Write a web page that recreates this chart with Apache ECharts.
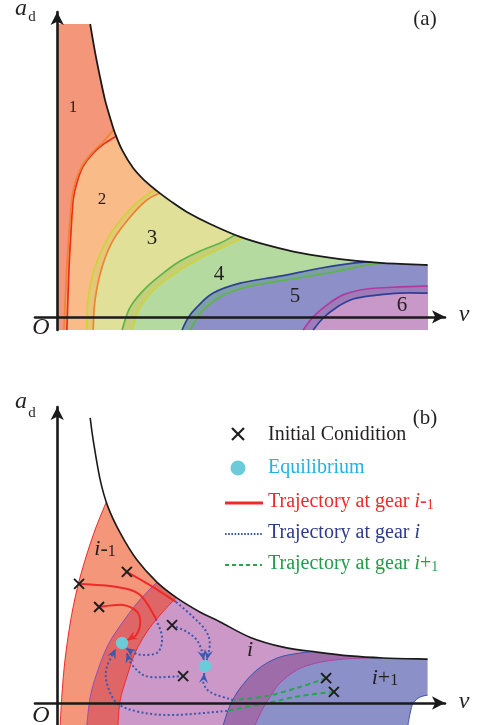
<!DOCTYPE html>
<html>
<head>
<meta charset="utf-8">
<script src="https://cdn.jsdelivr.net/npm/echarts@6/dist/echarts.min.js"></script>
<style>
html,body{margin:0;padding:0;background:#ffffff;}
#chart{width:480px;height:725px;}
</style>
</head>
<body>
<div id="chart"></div>
<script>
// ================= DATA (v, a_d) =================
// ---- Panel (a) ----
const envelopeA = [[0.89,10.0],[1.02,9.05],[1.16,8.16],[1.29,7.41],[1.43,6.79],[1.56,6.27],[1.75,5.70],[2.05,5.08],[2.37,4.64],[2.69,4.30],[3.05,3.96],[3.50,3.58],[4.13,3.17],[4.94,2.73],[5.75,2.42],[6.56,2.18],[7.64,1.97],[8.72,1.84],[10,1.77]];
const gear1EndA   = [[0.26,-0.45],[0.32,1.70],[0.37,2.86],[0.43,3.99],[0.53,4.57],[0.69,5.12],[0.97,5.59],[1.29,5.93],[1.61,6.18]];
const gear2StartA = [[0.18,-0.45],[0.26,1.71],[0.32,2.86],[0.39,3.99],[0.48,4.57],[0.66,5.13],[0.93,5.59],[1.24,5.98],[1.53,6.39]];
const gear2EndA   = [[0.97,-0.45],[1.02,0.57],[1.21,1.70],[1.51,2.62],[1.97,3.41],[2.42,3.99],[2.78,4.23]];
const gear3StartA = [[0.80,-0.45],[0.83,0.57],[1.02,1.70],[1.34,2.62],[1.78,3.41],[2.24,3.99],[2.64,4.35]];
const gear3EndA   = [[2.02,-0.45],[2.24,0.33],[2.69,1.02],[3.23,1.53],[3.77,1.94],[4.48,2.38],[5.02,2.69]];
const gear4StartA = [[1.75,-0.45],[1.97,0.33],[2.42,1.02],[2.97,1.60],[3.31,1.90],[3.86,2.25],[4.40,2.52],[4.78,2.78]];
const gear4EndA   = [[3.59,-0.45],[3.75,-0.11],[3.94,0.23],[4.40,0.68],[5.12,1.02],[6.20,1.26],[7.45,1.53],[8.36,1.77],[8.85,1.83]];
const gear5StartA = [[3.37,-0.45],[3.53,-0.04],[3.77,0.33],[4.21,0.81],[4.94,1.15],[6.01,1.39],[7.09,1.66],[8.04,1.84],[8.45,1.88]];
const gear5EndA   = [[6.91,-0.45],[7.18,-0.04],[7.55,0.33],[7.99,0.61],[8.63,0.74],[9.25,0.81],[10,0.81]];
const gear6StartA = [[6.64,-0.45],[6.91,0.0],[7.28,0.40],[7.72,0.75],[8.36,0.95],[9.25,1.02],[10,1.05]];
const gearLabelsA = ['1','2','3','4','5','6'];

// ---- Panel (b) ----
const envelopeB = [[0.89,9.74],[0.97,8.99],[1.16,7.62],[1.37,6.70],[1.70,5.81],[2.15,4.89],[2.69,4.13],[3.23,3.59],[3.85,3.11],[4.40,2.77],[5.20,2.25],[6.10,1.91],[7.01,1.74],[7.90,1.61],[8.80,1.54],[10,1.50]];
const gearPrevStartB = [[0.08,-0.75],[0.13,0.34],[0.21,1.47],[0.35,2.73],[0.53,3.86],[0.75,4.88],[1.02,5.91],[1.33,6.88]];
const gearPrevEndB   = [[1.64,-0.75],[1.70,0.10],[1.88,0.89],[2.10,1.71],[2.42,2.43],[2.78,3.01],[3.21,3.60]];
const gearCurStartB  = [[0.80,-0.75],[0.89,0.20],[1.07,1.02],[1.37,1.98],[1.75,2.73],[2.18,3.45],[2.69,4.13]];
const gearCurEndB    = [[5.34,-0.75],[5.53,-0.24],[5.74,0.20],[6.01,0.68],[6.47,1.13],[7.01,1.37],[7.72,1.50],[8.63,1.55]];
const gearNextStartB = [[4.48,-0.75],[4.67,-0.07],[4.94,0.51],[5.39,1.13],[5.94,1.54],[6.56,1.71],[6.96,1.75]];
const gearNextCutB   = [[10,0.27],[9.79,0.20],[9.61,0.0],[9.53,-0.34],[9.47,-0.75]];

const initialConditions = [[1.88,4.48],[0.59,4.07],[1.13,3.28],[3.10,2.66],[3.40,0.92],[7.26,0.85],[7.47,0.38]];
const equilibria = [[1.75,2.05],[3.99,1.26]];

const trajPrev1 = [[1.88,4.48],[2.59,3.96],[3.21,3.45]];
const trajPrev2 = [[0.59,4.07],[1.61,3.96],[2.24,3.69],[2.67,2.87]];
const trajPrev3 = [[1.13,3.28],[1.78,3.35],[2.16,3.11],[2.24,2.73],[2.13,2.32],[1.89,2.15]];
const trajCur1 = [[3.21,3.45],[3.67,2.94],[4.00,2.49],[4.12,2.05],[4.04,1.47]];
const trajCur2 = [[3.10,2.66],[3.50,2.43],[3.77,2.15],[3.90,1.80],[3.96,1.47]];
const trajCur3 = [[2.67,2.87],[2.83,2.25],[2.72,1.74],[2.32,1.64],[2.02,1.74],[1.86,1.88]];
const trajCur4 = [[3.40,0.92],[2.50,0.89],[2.15,1.13],[1.94,1.47],[1.88,1.71]];
const trajCur5 = [[4.75,0.10],[4.15,0.36],[3.95,0.68],[3.97,1.02]];
const trajCur6 = [[4.58,-0.27],[3.13,-0.41],[2.24,-0.31],[1.61,0.0],[1.34,0.68],[1.34,1.23],[1.58,1.85]];
const trajNext1 = [[7.26,0.85],[6.56,0.55],[5.66,0.24],[4.75,0.10]];
const trajNext2 = [[7.47,0.38],[6.56,0.24],[5.66,0.0],[4.58,-0.27]];

const vRange  = [-0.6, 10.47];
const aRangeA = [-0.45, 10.41];
const aRangeB = [-0.75, 10.11];

// ================= STYLES =================
const FONT = "'Liberation Serif','Times New Roman',serif";
const regionColA = ['#F4967A','#F9BB87','#E0E098','#B5DAA0','#8C8FC8','#C898C8'];
const bandColA   = ['#F3A276','#E6C67A','#C4CF7C','#7F9FA6','#9C7DBA'];
const lineColA   = ['#EE2A24','#F0842E','#D0D23A','#5DB548','#2E3F98','#B23A9E'];
const colB = {prev:'#F4967A', cur:'#CB98C8', band1:'#DF6666', next:'#8C90C8', band2:'#9D6CA9',
  red:'#EE2A2A', purple:'#9050B0', magenta:'#B0449E', blue:'#3A55AA',
  trajRed:'#EE2A2A', trajBlue:'#3A58B0', trajGreen:'#26A64A', cyan:'#6CCBD9', black:'#1E1E1E'};

// ================= HELPERS =================
const last = a => a[a.length-1];
const fmt = p => p[0].toFixed(2)+' '+p[1].toFixed(2);
function curve(api, pts, first){
  const q = pts.map(p => api.coord(p));
  let s = first + fmt(q[0]);
  for (let i=0;i<q.length-1;i++){
    const p0=q[i>0?i-1:i], p1=q[i], p2=q[i+1], p3=q[i+2<q.length?i+2:i+1];
    const c1=[p1[0]+(p2[0]-p0[0])/6, p1[1]+(p2[1]-p0[1])/6];
    const c2=[p2[0]-(p3[0]-p1[0])/6, p2[1]-(p3[1]-p1[1])/6];
    s += ' C'+fmt(c1)+' '+fmt(c2)+' '+fmt(p2);
  }
  return s+' ';
}
function straight(api, pts, first){
  return pts.map((p,i)=>(i===0?first:'L')+fmt(api.coord(p))).join(' ')+' ';
}
const between = (env,x0,x1) => env.filter(p => p[0] > x0+0.03 && p[0] < x1-0.03);
function bandPath(api, start, end, env){
  const a=last(start), b=last(end);
  return curve(api,start,'M') + curve(api,[a,...between(env,a[0],b[0]),b],'L') + curve(api,end.slice().reverse(),'L') + 'Z';
}
function regionPath(api, start, env, ymin){
  const e=last(start);
  return curve(api,start,'M') + curve(api,[e,...between(env,e[0],99)],'L') + straight(api,[[10,ymin]],'L') + 'Z';
}
function arrowHead(api, pts, len, hw){
  const t=api.coord(last(pts)), p=api.coord(pts[pts.length-2]);
  let dx=t[0]-p[0], dy=t[1]-p[1]; const L=Math.hypot(dx,dy)||1; dx/=L; dy/=L;
  const nx=-dy, ny=dx;
  const bx=t[0]-dx*len, by=t[1]-dy*len;
  const mx=t[0]-dx*len*0.62, my=t[1]-dy*len*0.62;
  return 'M'+fmt(t)+' L'+fmt([bx+nx*hw,by+ny*hw])+' L'+fmt([mx,my])+' L'+fmt([bx-nx*hw,by-ny*hw])+' Z';
}
function cross(api,p,s){
  const c=api.coord(p);
  return 'M'+fmt([c[0]-s,c[1]-s])+' L'+fmt([c[0]+s,c[1]+s])+' M'+fmt([c[0]-s,c[1]+s])+' L'+fmt([c[0]+s,c[1]-s]);
}

// ================= RENDERERS =================
function renderA(params, api){
  const ymin = aRangeA[0];
  const kids=[];
  const F=(d,c)=>kids.push({type:'path',shape:{pathData:d},style:{fill:c,stroke:'none'}});
  const S=(d,c,w)=>kids.push({type:'path',shape:{pathData:d},style:{fill:'none',stroke:c,lineWidth:w,lineJoin:'round'}});
  const starts=[null,gear2StartA,gear3StartA,gear4StartA,gear5StartA,gear6StartA];
  const ends=[gear1EndA,gear2EndA,gear3EndA,gear4EndA,gear5EndA,null];
  F(straight(api,[[0,ymin],[0,envelopeA[0][1]]],'M') + curve(api,envelopeA,'L') + straight(api,[[10,ymin]],'L') + 'Z', regionColA[0]);
  for (let k=1;k<6;k++){
    F(regionPath(api,starts[k],envelopeA,ymin), regionColA[k]);
    F(bandPath(api,starts[k],ends[k-1],envelopeA), bandColA[k-1]);
  }
  for (let k=1;k<6;k++){
    S(curve(api,ends[k-1],'M'), lineColA[k-1], 1.7);
    S(curve(api,starts[k],'M'), lineColA[k], 1.7);
  }
  S(curve(api,envelopeA,'M'), '#1a1a1a', 1.8);
  return {type:'group',children:kids};
}

function renderB(params, api){
  const kids=[];
  const F=(d,c)=>kids.push({type:'path',shape:{pathData:d},style:{fill:c,stroke:'none'}});
  const S=(d,c,w,dash)=>kids.push({type:'path',shape:{pathData:d},style:{fill:'none',stroke:c,lineWidth:w,lineDash:dash||null,lineJoin:'round'}});
  F(bandPath(api,gearPrevStartB,gearPrevEndB,envelopeB), colB.prev);
  F(bandPath(api,gearCurStartB,gearCurEndB,envelopeB), colB.cur);
  F(bandPath(api,gearCurStartB,gearPrevEndB,envelopeB), colB.band1);
  const e=last(gearNextStartB);
  F(curve(api,gearNextStartB,'M') + curve(api,[e,...between(envelopeB,e[0],99)],'L') + curve(api,gearNextCutB,'L') + 'Z', colB.next);
  F(bandPath(api,gearNextStartB,gearCurEndB,envelopeB), colB.band2);
  S(curve(api,gearPrevStartB,'M'), colB.red, 1);
  S(curve(api,gearPrevEndB,'M'), colB.red, 1);
  S(curve(api,gearCurStartB,'M'), colB.purple, 1);
  S(curve(api,gearCurEndB,'M'), colB.magenta, 1);
  S(curve(api,gearNextStartB,'M'), colB.blue, 1);
  S(curve(api,gearNextCutB,'M'), colB.blue, 1);
  S(curve(api,envelopeB,'M'), '#1a1a1a', 1.6);
  const dots=[2,2.4], dashes=[5,3.5];
  [trajCur1,trajCur2,trajCur3,trajCur4,trajCur5,trajCur6].forEach(t=>S(curve(api,t,'M'), colB.trajBlue, 2, dots));
  [trajNext1,trajNext2].forEach(t=>S(curve(api,t,'M'), colB.trajGreen, 2, dashes));
  [trajPrev1,trajPrev2,trajPrev3].forEach(t=>S(curve(api,t,'M'), colB.trajRed, 2));
  [trajCur1,trajCur2,trajCur3,trajCur4,trajCur5,trajCur6].forEach(t=>F(arrowHead(api,t,10,4.5), colB.trajBlue));
  F(arrowHead(api,trajPrev3,10,4.5), colB.trajRed);
  initialConditions.forEach(p=>S(cross(api,p,5), colB.black, 2));
  equilibria.forEach(p=>{const c=api.coord(p); kids.push({type:'circle',shape:{cx:c[0],cy:c[1],r:6.2},style:{fill:colB.cyan}});});
  return {type:'group',children:kids};
}

// ================= TEXT / LEGEND =================
function T(x,y,text,size,opts){
  opts=opts||{};
  return {type:'text',x:x,y:y,z:100,silent:true,style:{text:text,fontSize:size,fontFamily:FONT,
    fontStyle:opts.italic?'italic':'normal',fill:opts.color||'#231F20',align:opts.align||'center',verticalAlign:'middle',rich:opts.rich}};
}
function richMath(c,size){
  return {
    n:{fontSize:size,fontFamily:FONT,fill:c,verticalAlign:'bottom'},
    i:{fontSize:size,fontFamily:FONT,fontStyle:'italic',fill:c,verticalAlign:'bottom'},
    s:{fontSize:Math.round(size*0.72),fontFamily:FONT,fill:c,verticalAlign:'bottom'}
  };
}
const graphics = [
  T(21,8.5,'a',24,{italic:true}), T(32,17.5,'d',15),
  T(41,328,'O',24,{italic:true}), T(464,315,'v',24,{italic:true}),
  T(425,19,'(a)',21),
  T(73,108,gearLabelsA[0],17), T(102,200,gearLabelsA[1],17), T(152,238,gearLabelsA[2],21),
  T(219,274,gearLabelsA[3],21), T(295,296,gearLabelsA[4],21), T(402,305,gearLabelsA[5],21),
  T(21,401.5,'a',24,{italic:true}), T(32,413,'d',15),
  T(41,716,'O',24,{italic:true}), T(464,701.5,'v',24,{italic:true}),
  T(425,418,'(b)',21),
  T(105,549,'{i|i}{n|-}{s|1}',22,{rich:richMath('#231F20',22)}),
  T(250,650,'i',22,{italic:true}),
  T(385,678,'{i|i}{n|+}{s|1}',22,{rich:richMath('#231F20',22)}),
  {type:'line',z:100,silent:true,shape:{x1:232,y1:428,x2:244,y2:440},style:{stroke:'#1E1E1E',lineWidth:2.2}},
  {type:'line',z:100,silent:true,shape:{x1:232,y1:440,x2:244,y2:428},style:{stroke:'#1E1E1E',lineWidth:2.2}},
  T(268,435,'Initial Conidition',20,{align:'left'}),
  {type:'circle',z:100,silent:true,shape:{cx:238,cy:468,r:7.5},style:{fill:colB.cyan}},
  T(268,468,'Equilibrium',20,{align:'left',color:'#22B3E6'}),
  {type:'line',z:100,silent:true,shape:{x1:225,y1:503,x2:263,y2:503},style:{stroke:colB.trajRed,lineWidth:3}},
  T(268,502,'{n|Trajectory at gear }{i|i}{n|-}{s|1}',20,{align:'left',rich:richMath('#EE2A2A',20)}),
  {type:'line',z:100,silent:true,shape:{x1:225,y1:534,x2:262,y2:534},style:{stroke:colB.trajBlue,lineWidth:2,lineDash:[1.6,1.6]}},
  T(268,533,'{n|Trajectory at gear }{i|i}',20,{align:'left',rich:richMath('#2E3A8C',20)}),
  {type:'line',z:100,silent:true,shape:{x1:225,y1:565,x2:262,y2:565},style:{stroke:colB.trajGreen,lineWidth:2,lineDash:[4,3]}},
  T(268,564,'{n|Trajectory at gear }{i|i}{n|+}{s|1}',20,{align:'left',rich:richMath('#1F9D48',20)})
];

// ================= CHART =================
const axisLine = {show:true,onZero:true,symbol:['none','arrow'],symbolSize:[10,13],lineStyle:{color:'#1a1a1a',width:2.6}};
function xAx(g){return {gridIndex:g,type:'value',min:vRange[0],max:vRange[1],z:10,axisLine:axisLine,axisTick:{show:false},axisLabel:{show:false},splitLine:{show:false}};}
function yAx(g,r){return {gridIndex:g,type:'value',min:r[0],max:r[1],z:10,axisLine:axisLine,axisTick:{show:false},axisLabel:{show:false},splitLine:{show:false}};}

const chart = echarts.init(document.getElementById('chart'), null, {renderer:'canvas', width:480, height:725});
chart.setOption({
  animation:false,
  backgroundColor:'#ffffff',
  grid:[{left:35,top:12,width:410,height:318},{left:35,top:407,width:410,height:318}],
  xAxis:[xAx(0),xAx(1)],
  yAxis:[yAx(0,aRangeA),yAx(1,aRangeB)],
  series:[
    {type:'custom',xAxisIndex:0,yAxisIndex:0,data:[[0,0]],renderItem:renderA,silent:true,clip:false,z:2},
    {type:'custom',xAxisIndex:1,yAxisIndex:1,data:[[0,0]],renderItem:renderB,silent:true,clip:false,z:2}
  ],
  graphic:graphics
});
</script>
</body>
</html>
